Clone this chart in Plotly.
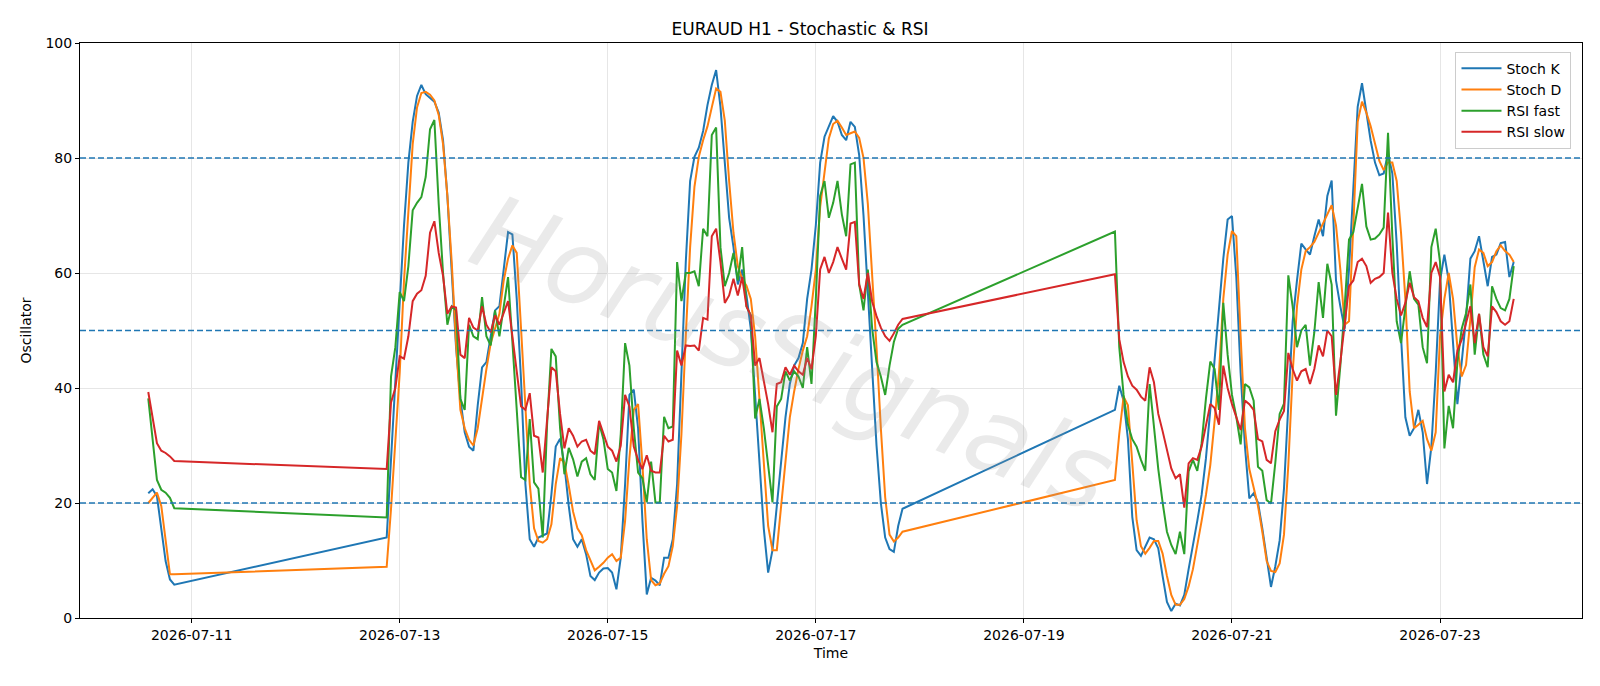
import pandas as pd
import plotly.graph_objects as go

# ---- time segments (hourly bars, weekend gaps) ----
seg_starts = ["2026-07-10 14:00", "2026-07-12 21:00", "2026-07-19 21:00"]
seg_lengths = [7, 120, 93]

# ---- Stoch K ----
stoch_k_1 = [21.7, 22.4, 21.2, 15.9, 9.9, 6.7, 5.8]
stoch_k_2 = [14.0, 27.8, 42.6,
             54.2, 68.3, 79.2, 86.3, 90.8, 92.7, 91.1, 90.5, 89.8, 87.9,
             83.1, 73.4, 60.6, 47.1, 38.1, 32.3, 29.8, 29.1, 37.0, 43.6,
             44.5, 49.0, 53.5, 54.2, 60.6, 67.1, 66.7, 55.5, 41.3, 23.3,
             13.7, 12.4, 14.0, 14.4, 14.7, 21.5, 29.8, 31.2, 26.6, 19.5,
             13.7, 12.4, 13.7, 11.1, 7.3, 6.6, 7.9, 8.6, 8.7, 7.9,
             5.0, 10.5, 23.3, 38.8, 39.7, 33.0, 16.9, 4.1, 7.0, 6.5,
             5.7, 10.5, 10.5, 13.7, 23.3, 42.6, 61.9, 76.0, 80.2, 81.8,
             84.7, 89.2, 92.7, 95.3, 88.9, 79.2, 69.6, 64.5, 58.0, 60.6,
             56.1, 50.3, 39.0, 26.6, 15.5, 7.9, 11.8, 19.5, 27.8, 34.9,
             40.7, 43.9, 45.2, 47.8, 55.5, 60.6, 68.3, 79.2, 83.7, 85.6,
             87.3, 86.3, 84.0, 83.1, 86.3, 85.4, 80.5, 70.0, 56.0, 42.0,
             30.0, 20.0, 14.0, 12.0, 11.5, 16.0, 19.0]
stoch_k_3 = [36.2, 40.4, 37.8, 31.1, 17.6, 11.8, 10.8,
             12.4, 14.0, 13.7, 12.1, 7.3, 2.8, 1.2, 2.5, 2.2, 4.0,
             8.5, 12.4, 16.9, 21.4, 27.8, 36.2, 44.5, 54.2, 62.5, 69.3,
             69.9, 59.3, 42.6, 29.8, 20.8, 21.7, 20.1, 15.6, 10.5, 5.4,
             9.0, 13.5, 22.5, 36.2, 51.6, 58.7, 65.1, 64.1, 63.2, 66.4,
             69.3, 66.4, 73.4, 76.1, 58.7, 54.2, 50.3, 60.6, 74.7, 88.9,
             93.0, 87.6, 83.0, 79.2, 77.0, 77.3, 80.8, 77.3, 65.1, 49.0,
             34.9, 31.7, 33.0, 36.2, 32.3, 23.3, 29.8, 42.6, 58.7, 63.2,
             58.7, 47.8, 37.2, 44.5, 52.2, 62.5, 63.8, 66.4, 61.9, 57.7,
             62.8, 63.2, 65.2, 65.4, 59.3, 61.9]

# ---- Stoch D ----
stoch_d_1 = [20.0, 21.0, 21.8, 19.5, 13.5, 7.6, 7.6]
stoch_d_2 = [8.9, 19.0, 30.0,
             42.6, 58.7, 71.5, 82.4, 88.8, 91.3, 91.5, 91.0, 90.0, 87.5,
             82.4, 73.4, 61.9, 47.8, 36.2, 33.0, 31.0, 30.0, 33.0, 38.5,
             43.3, 47.8, 50.3, 52.9, 58.7, 62.5, 64.8, 63.5, 50.3, 36.2,
             23.3, 15.6, 13.4, 13.1, 13.7, 16.3, 23.3, 27.8, 27.0, 23.0,
             18.5, 15.6, 14.4, 11.8, 9.9, 8.3, 8.9, 9.6, 10.5, 11.1,
             9.9, 10.5, 16.9, 27.8, 36.2, 37.2, 26.6, 13.7, 6.6, 5.7,
             6.0, 7.7, 9.0, 12.5, 19.5, 32.0, 49.0, 64.5, 75.0, 80.2,
             83.1, 85.5, 88.8, 92.1, 91.5, 86.5, 76.0, 67.0, 61.2, 59.0,
             57.8, 55.5, 49.0, 38.0, 26.0, 16.0, 11.8, 11.8, 19.5, 27.8,
             34.9, 39.4, 43.3, 46.5, 49.0, 54.2, 60.6, 71.5, 77.9, 83.4,
             85.9, 86.5, 85.3, 84.0, 84.3, 84.6, 83.5, 80.0, 72.0, 60.0,
             47.0, 33.0, 21.0, 14.5, 13.3, 14.0, 15.0]
stoch_d_3 = [24.0, 32.0, 38.5, 37.0, 27.0, 17.0, 12.5,
             11.2, 12.2, 13.4, 13.4, 11.2, 7.3, 4.0, 2.3, 2.3, 3.3,
             5.5, 8.5, 12.4, 16.9, 21.4, 26.6, 34.3, 42.6, 55.5, 63.2,
             67.3, 66.4, 49.0, 33.0, 25.9, 22.7, 19.5, 15.0, 9.9, 8.2,
             8.0, 9.5, 14.5, 26.6, 42.6, 54.2, 60.6, 63.8, 64.5, 65.4,
             67.0, 68.3, 70.2, 71.8, 68.3, 60.6, 51.0, 51.6, 68.3, 86.3,
             89.8, 87.9, 85.5, 82.5, 79.5, 77.9, 79.2, 79.2, 76.0, 67.0,
             55.5, 39.4, 33.0, 33.6, 34.3, 31.1, 29.1, 32.3, 49.0, 55.5,
             60.0, 55.5, 47.1, 42.0, 44.0, 52.0, 61.0, 64.1, 63.5, 61.2,
             61.9, 63.8, 64.8, 63.8, 63.2, 61.9]

# ---- RSI fast ----
rsi_fast_1 = [38.2, 31.0, 24.0, 22.3, 21.8, 20.9, 19.1]
rsi_fast_2 = [17.5, 42.0, 47.1,
              56.7, 55.1, 61.2, 70.9, 72.2, 73.2, 76.7, 85.0, 86.6, 72.0,
              60.0, 51.0, 54.2, 53.5, 38.1, 36.2, 51.0, 49.0, 48.5, 55.8,
              49.0, 47.4, 53.5, 49.0, 54.2, 59.3, 48.0, 36.0, 24.5, 24.0,
              34.6, 23.6, 22.5, 14.0, 33.6, 46.8, 45.5, 33.0, 25.0, 29.6,
              27.6, 24.6, 27.2, 27.8, 25.0, 24.0, 33.9, 31.1, 25.9, 25.3,
              22.1, 32.0, 47.8, 43.9, 33.0, 25.3, 24.3, 20.1, 27.2, 20.1,
              20.1, 35.0, 33.0, 33.3, 61.9, 55.1, 60.0, 60.0, 60.3, 57.7,
              67.7, 66.4, 84.0, 85.3, 64.5, 57.7, 60.0, 63.5, 58.7, 64.5,
              54.2, 52.6, 34.7, 38.1, 33.0, 26.6, 20.1, 36.8, 38.1, 42.9,
              41.3, 42.9, 42.0, 40.0, 47.1, 40.7, 55.5, 73.4, 76.0, 69.6,
              72.2, 76.0, 70.2, 66.4, 78.9, 79.2, 58.0, 53.5, 60.6, 50.3,
              44.5, 42.0, 38.8, 43.9, 48.0, 50.3, 51.0]
rsi_fast_3 = [67.2, 47.1, 38.8, 33.6, 31.1, 29.8, 27.5,
              25.6, 40.7, 33.0, 25.9, 20.1, 15.0, 12.7, 11.1, 15.0, 11.1,
              25.5, 27.5, 25.6, 30.4, 38.2, 44.6, 43.3, 36.2, 54.8, 45.8,
              38.8, 35.0, 30.2, 40.7, 40.1, 37.8, 26.3, 25.6, 20.5, 19.9,
              27.0, 35.5, 37.3, 59.6, 54.2, 47.1, 50.0, 51.0, 43.9, 49.7,
              58.4, 52.2, 61.6, 58.0, 35.2, 43.9, 54.2, 65.8, 67.1, 71.3,
              75.5, 68.1, 65.8, 66.0, 66.7, 67.9, 84.4, 66.4, 51.6, 47.8,
              54.2, 60.3, 55.5, 54.5, 47.1, 44.3, 64.5, 67.7, 61.9, 29.5,
              36.9, 33.0, 44.5, 50.3, 53.0, 58.0, 45.8, 52.9, 45.8, 43.6,
              57.7, 55.5, 53.9, 53.5, 55.5, 61.2]

# ---- RSI slow ----
rsi_slow_1 = [39.3, 34.8, 30.4, 29.1, 28.7, 28.1, 27.3]
rsi_slow_2 = [25.9, 37.5, 40.0,
              45.5, 45.1, 49.0, 55.1, 56.4, 57.0, 59.5, 67.0, 69.0, 63.5,
              59.5, 52.9, 54.2, 54.0, 45.8, 45.2, 52.2, 50.5, 50.0, 54.2,
              51.0, 49.7, 52.6, 51.0, 53.2, 55.1, 49.0, 42.6, 36.8, 36.2,
              39.1, 31.7, 31.4, 25.3, 35.0, 43.6, 42.9, 35.5, 29.5, 33.0,
              31.7, 29.8, 30.7, 31.0, 29.1, 28.5, 34.3, 32.0, 29.8, 29.1,
              27.2, 30.0, 38.8, 36.8, 29.8, 27.5, 25.9, 28.3, 25.6, 25.3,
              25.3, 31.7, 30.7, 31.0, 46.5, 43.9, 47.4, 47.3, 47.4, 46.5,
              52.2, 51.9, 66.4, 67.7, 61.9, 54.8, 56.1, 59.0, 56.1, 59.3,
              54.2, 52.6, 43.9, 45.2, 41.3, 37.2, 32.3, 40.7, 41.0, 43.6,
              42.3, 43.9, 42.9, 42.3, 45.2, 43.3, 49.0, 60.6, 62.8, 60.0,
              61.9, 64.5, 62.5, 60.6, 68.6, 68.9, 58.0, 55.5, 60.0, 55.0,
              52.5, 50.5, 49.0, 48.2, 49.5, 51.0, 52.0]
rsi_slow_3 = [59.8, 48.5, 44.5, 42.0, 40.4, 39.7, 38.5,
              37.8, 43.6, 41.0, 35.5, 32.5, 29.5, 26.0, 24.3, 25.0, 19.2,
              26.9, 27.8, 27.5, 29.8, 33.6, 37.2, 36.5, 33.6, 43.9, 40.0,
              37.2, 34.9, 32.7, 37.8, 37.2, 36.2, 31.1, 30.7, 27.5, 26.9,
              32.5, 34.5, 36.0, 46.1, 43.3, 41.3, 42.9, 43.3, 40.7, 43.3,
              47.4, 45.5, 50.0, 49.0, 38.8, 44.5, 50.6, 57.7, 58.7, 61.9,
              62.5, 61.2, 58.3, 59.0, 59.3, 60.0, 70.5, 60.0, 55.5, 52.6,
              54.8, 58.3, 55.8, 55.1, 52.2, 50.6, 60.0, 61.9, 59.3, 39.4,
              42.3, 41.0, 46.5, 48.4, 51.3, 54.2, 47.8, 52.9, 47.1, 45.5,
              54.2, 53.2, 51.6, 51.0, 51.6, 55.5]

levels = [20, 50, 80]
tick_dates = ["2026-07-11", "2026-07-13", "2026-07-15", "2026-07-17",
              "2026-07-19", "2026-07-21", "2026-07-23"]

# ---- build ----
times = []
for s, n in zip(seg_starts, seg_lengths):
    times.extend(pd.date_range(s, periods=n, freq="h"))

series = [
    ("Stoch K", stoch_k_1 + stoch_k_2 + stoch_k_3, "#1f77b4"),
    ("Stoch D", stoch_d_1 + stoch_d_2 + stoch_d_3, "#ff7f0e"),
    ("RSI fast", rsi_fast_1 + rsi_fast_2 + rsi_fast_3, "#2ca02c"),
    ("RSI slow", rsi_slow_1 + rsi_slow_2 + rsi_slow_3, "#d62728"),
]

fig = go.Figure()
for name, vals, col in series:
    fig.add_trace(go.Scatter(x=times, y=vals, mode="lines", name=name,
                             line=dict(color=col, width=2)))

for lv in levels:
    fig.add_hline(y=lv, line=dict(color="#1f77b4", width=1.3, dash="6px,3px"))

fig.add_annotation(text="HorusSignals", xref="paper", yref="paper",
                   x=0.475, y=0.46, showarrow=False, textangle=22,
                   font=dict(family="DejaVu Sans", size=104, style="italic",
                             color="rgba(150,150,150,0.2)"))

fig.update_layout(
    width=1600, height=686,
    margin=dict(l=80, r=18, t=43, b=68),
    paper_bgcolor="white", plot_bgcolor="white",
    font=dict(family="DejaVu Sans", size=14, color="black"),
    title=dict(text="EURAUD H1 - Stochastic & RSI", x=0.5, xanchor="center",
               y=0.958, yanchor="middle", font=dict(size=17)),
    legend=dict(x=0.993, y=0.985, xanchor="right", yanchor="top",
                bgcolor="rgba(255,255,255,0.9)", bordercolor="#cccccc",
                borderwidth=1, font=dict(size=14), itemwidth=40,
                tracegroupgap=2),
    showlegend=True,
)
fig.update_xaxes(range=["2026-07-09 22:15", "2026-07-24 08:45"],
                 tickvals=tick_dates, tickformat="%Y-%m-%d",
                 showgrid=True, gridcolor="#e6e6e6", gridwidth=1,
                 showline=True, linecolor="black", linewidth=1, mirror=True,
                 ticks="outside", ticklen=4, tickcolor="black",
                 tickfont=dict(size=14),
                 title=dict(text="Time", font=dict(size=14), standoff=6),
                 zeroline=False)
fig.update_yaxes(range=[0, 100], tickvals=[0, 20, 40, 60, 80, 100],
                 showgrid=True, gridcolor="#e6e6e6", gridwidth=1,
                 showline=True, linecolor="black", linewidth=1, mirror=True,
                 ticks="outside", ticklen=4, tickcolor="black",
                 tickfont=dict(size=14),
                 title=dict(text="Oscillator", font=dict(size=14), standoff=10),
                 zeroline=False)

fig.write_html("out.html")
